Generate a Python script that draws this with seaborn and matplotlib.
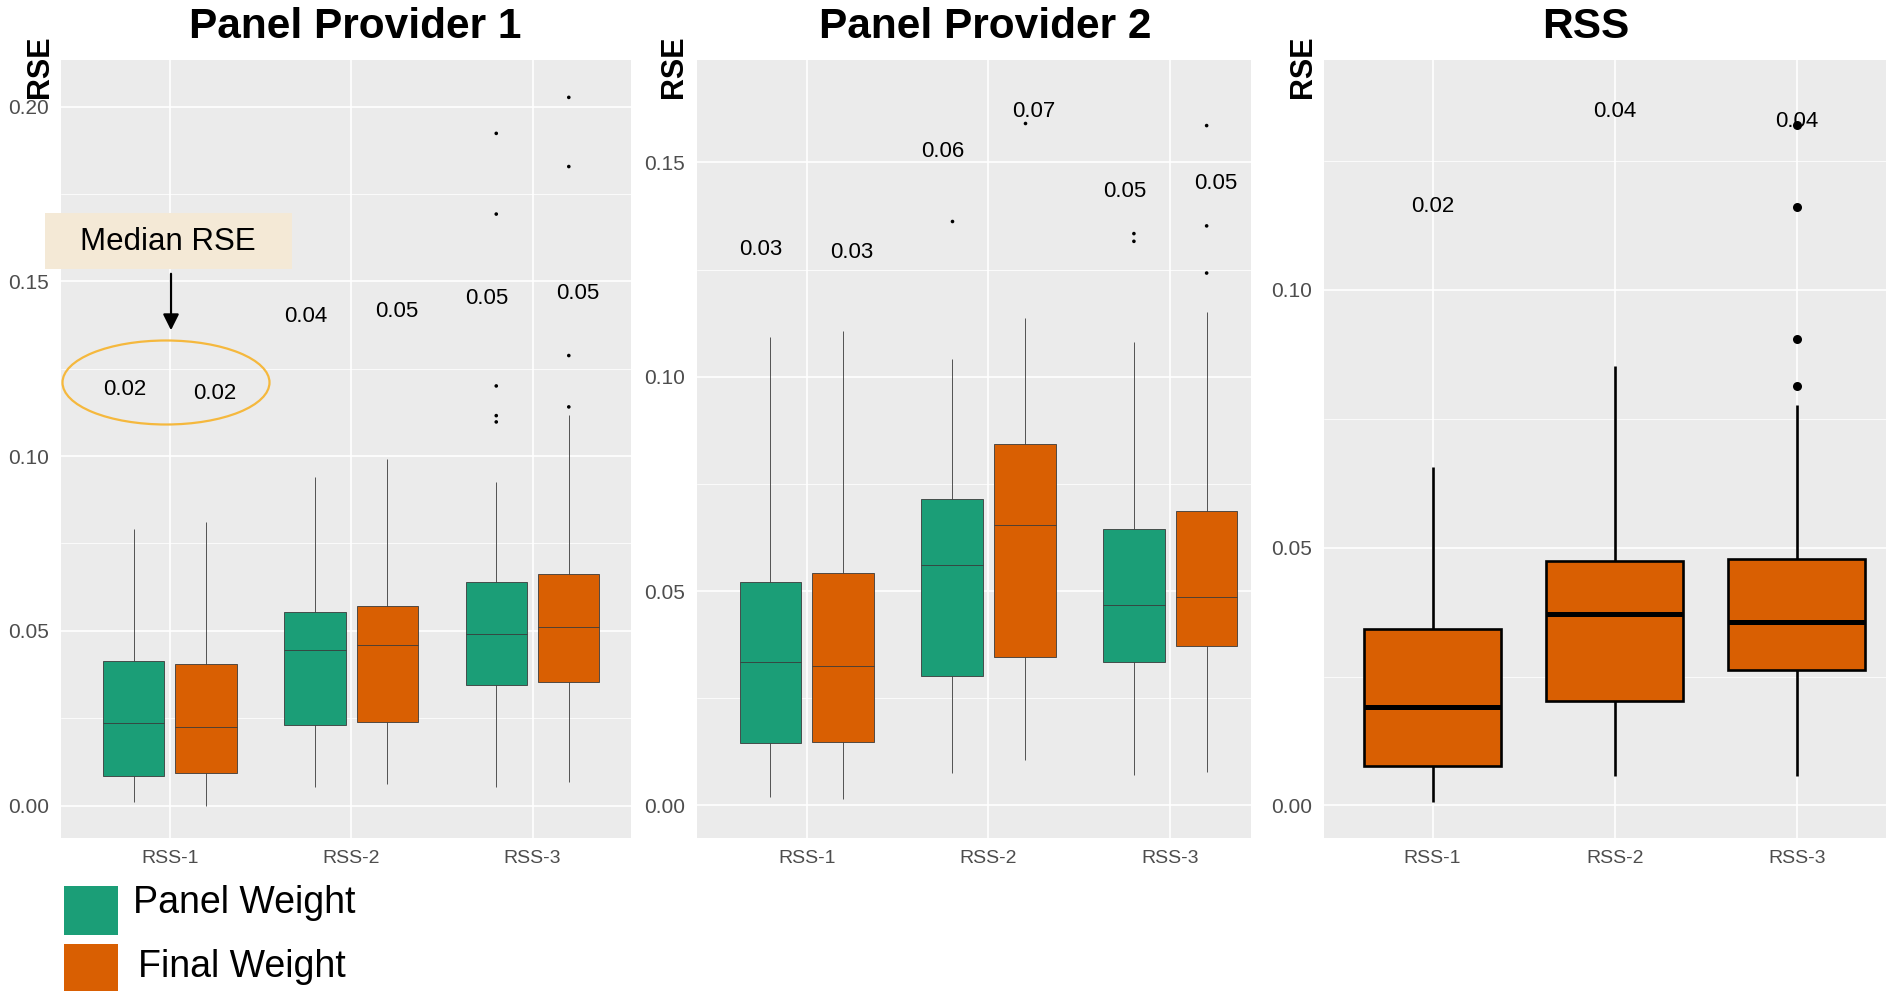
import numpy as np
import pandas as pd
import matplotlib
matplotlib.use("Agg")
import matplotlib.pyplot as plt
from matplotlib.patches import Ellipse, Rectangle
from matplotlib.ticker import MultipleLocator, FormatStrFormatter
import seaborn as sns

sites = ["RSS-1", "RSS-2", "RSS-3"]
weights = ["Panel Weight", "Final Weight"]
colors = ["#1B9E77", "#D95F02"]

# Panel Provider 1: whisker low, Q1, median, Q3, whisker high per site
p1_panel_lo = [0.0011, 0.0054, 0.0054]
p1_panel_q1 = [0.0084, 0.0230, 0.0345]
p1_panel_med = [0.0237, 0.0444, 0.0492]
p1_panel_q3 = [0.0415, 0.0555, 0.0641]
p1_panel_hi = [0.0792, 0.0941, 0.0925]
p1_final_lo = [0.0000, 0.0063, 0.0068]
p1_final_q1 = [0.0092, 0.0238, 0.0353]
p1_final_med = [0.0226, 0.0459, 0.0510]
p1_final_q3 = [0.0404, 0.0572, 0.0663]
p1_final_hi = [0.0811, 0.0991, 0.1119]
p1_panel_out = [[], [], [0.1924, 0.1693, 0.1201, 0.1116, 0.1098]]
p1_final_out = [[], [], [0.2027, 0.1829, 0.1288, 0.1141]]
p1_panel_label_y = [0.119, 0.140, 0.145]
p1_final_label_y = [0.118, 0.1415, 0.1467]

# Panel Provider 2
p2_panel_lo = [0.0019, 0.0075, 0.0072]
p2_panel_q1 = [0.0145, 0.0302, 0.0335]
p2_panel_med = [0.0335, 0.0562, 0.0468]
p2_panel_q3 = [0.0522, 0.0715, 0.0645]
p2_panel_hi = [0.1093, 0.1041, 0.1080]
p2_final_lo = [0.0015, 0.0105, 0.0079]
p2_final_q1 = [0.0148, 0.0347, 0.0371]
p2_final_med = [0.0325, 0.0654, 0.0487]
p2_final_q3 = [0.0543, 0.0843, 0.0688]
p2_final_hi = [0.1107, 0.1136, 0.1152]
p2_panel_out = [[], [0.1364], [0.1334, 0.1316]]
p2_final_out = [[], [0.1592], [0.1586, 0.1352, 0.1242]]
p2_panel_label_y = [0.1298, 0.1525, 0.1432]
p2_final_label_y = [0.129, 0.1618, 0.1451]

# RSS (final weight only)
p3_lo = [0.0007, 0.0057, 0.0057]
p3_q1 = [0.0076, 0.0202, 0.0262]
p3_med = [0.0190, 0.0371, 0.0355]
p3_q3 = [0.0342, 0.0473, 0.0478]
p3_hi = [0.0657, 0.0851, 0.0776]
p3_out = [[], [], [0.1319, 0.1161, 0.0904, 0.0814]]
p3_label_y = [0.1161, 0.1345, 0.1326]

FONT = "Liberation Sans"
sns.set_theme(style="darkgrid")
plt.rcParams["font.family"] = [FONT, "DejaVu Sans"]


def summary_frame(series):
    """series: list of (weight, lo, q1, med, q3, hi) -> long frame of five-number points."""
    rows = []
    for weight, lo, q1, med, q3, hi in series:
        for i, site in enumerate(sites):
            for v in (lo[i], q1[i], med[i], q3[i], hi[i]):
                rows.append({"site": site, "weight": weight, "rse": v})
    return pd.DataFrame(rows)


def outlier_frame(series):
    rows = []
    for weight, outs in series:
        for i, site in enumerate(sites):
            for v in outs[i]:
                rows.append({"site": site, "weight": weight, "rse": v})
    return pd.DataFrame(rows)


def style_axis(ax, ylim, xlim, yticks):
    ax.set_facecolor("#EBEBEB")
    ax.set_ylim(*ylim)
    ax.set_xlim(*xlim)
    ax.set_yticks(yticks)
    ax.yaxis.set_major_formatter(FormatStrFormatter("%.2f"))
    ax.yaxis.set_minor_locator(MultipleLocator(0.025))
    ax.set_axisbelow(True)
    ax.grid(False)
    ax.grid(True, which="major", color="white", linewidth=1.2)
    ax.grid(True, which="minor", axis="y", color="white", linewidth=0.55)
    ax.tick_params(axis="both", which="major", length=5.5, width=1.0, color="#333333",
                   labelcolor="#4D4D4D", direction="out")
    ax.tick_params(axis="y", which="major", labelsize=15, pad=3)
    ax.tick_params(axis="x", which="major", labelsize=14, pad=3)
    ax.tick_params(which="minor", length=0)
    for s in ax.spines.values():
        s.set_visible(False)
    ax.set_xlabel("")
    ax.set_ylabel("")


W, H = 1886, 991
fig = plt.figure(figsize=(W / 100, H / 100), dpi=100)
fig.patch.set_facecolor("white")

ax1 = fig.add_axes([61 / W, 1 - 838 / H, 570 / W, 778 / H])
ax2 = fig.add_axes([697 / W, 1 - 838 / H, 554 / W, 778 / H])
ax3 = fig.add_axes([1324 / W, 1 - 838 / H, 562 / W, 778 / H])

palette = dict(zip(weights, colors))
black = {w: "black" for w in weights}

panels = [
    (ax1,
     [(weights[0], p1_panel_lo, p1_panel_q1, p1_panel_med, p1_panel_q3, p1_panel_hi),
      (weights[1], p1_final_lo, p1_final_q1, p1_final_med, p1_final_q3, p1_final_hi)],
     [(weights[0], p1_panel_out), (weights[1], p1_final_out)],
     [(p1_panel_med, p1_panel_label_y), (p1_final_med, p1_final_label_y)],
     (-0.0093, 0.2134), (-0.6, 2.543), [0, 0.05, 0.10, 0.15, 0.20]),
    (ax2,
     [(weights[0], p2_panel_lo, p2_panel_q1, p2_panel_med, p2_panel_q3, p2_panel_hi),
      (weights[1], p2_final_lo, p2_final_q1, p2_final_med, p2_final_q3, p2_final_hi)],
     [(weights[0], p2_panel_out), (weights[1], p2_final_out)],
     [(p2_panel_med, p2_panel_label_y), (p2_final_med, p2_final_label_y)],
     (-0.0076, 0.1739), (-0.603, 2.444), [0, 0.05, 0.10, 0.15]),
]

for ax, series, outs, labels, ylim, xlim, yticks in panels:
    box_df = summary_frame(series)
    sns.boxplot(data=box_df, x="site", y="rse", hue="weight", order=sites,
                hue_order=weights, palette=palette, saturation=1, whis=(0, 100),
                width=0.8, gap=0.156, linewidth=0.6, linecolor="#3a3a3a",
                showfliers=False, showcaps=False, legend=False, ax=ax)
    out_df = outlier_frame(outs)
    sns.stripplot(data=out_df, x="site", y="rse", hue="weight", order=sites,
                  hue_order=weights, palette=black, dodge=True, jitter=False,
                  size=2.6, linewidth=0, legend=False, ax=ax)
    for k, (meds, ys) in enumerate(labels):
        shift = -0.25 if k == 0 else 0.25
        for i in range(len(sites)):
            ax.text(i + shift, ys[i], f"{meds[i]:.2f}", ha="center", va="center",
                    fontsize=16, color="black")
    style_axis(ax, ylim, xlim, yticks)

# RSS panel
box3 = summary_frame([(weights[1], p3_lo, p3_q1, p3_med, p3_q3, p3_hi)])
sns.boxplot(data=box3, x="site", y="rse", order=sites, color=colors[1], saturation=1,
            whis=(0, 100), width=0.75, linewidth=1.9, linecolor="black",
            medianprops={"linewidth": 3.6}, showfliers=False, showcaps=False, ax=ax3)
out3 = outlier_frame([(weights[1], p3_out)])
sns.stripplot(data=out3, x="site", y="rse", order=sites, color="black", jitter=False,
              size=6.5, linewidth=0, ax=ax3)
for i in range(len(sites)):
    ax3.text(i, p3_label_y[i], f"{p3_med[i]:.2f}", ha="center", va="center",
             fontsize=16, color="black")
style_axis(ax3, (-0.0063, 0.1445), (-0.596, 2.49), [0, 0.05, 0.10])

# Titles and y labels
for x, title in [(355 / W, "Panel Provider 1"), (985 / W, "Panel Provider 2"), (1586 / W, "RSS")]:
    fig.text(x, 1 - 27 / H, title, ha="center", va="center", fontsize=30.5,
             fontweight="bold", color="black")
for x in (40 / W, 674 / W, 1303 / W):
    fig.text(x, 1 - 67 / H, "RSE", rotation=90, ha="center", va="center",
             fontsize=22, fontweight="bold", color="black")

# Median RSE callout
fig.add_artist(Rectangle((44.5 / W, 1 - 269 / H), 247.5 / W, 56 / H,
                         transform=fig.transFigure, facecolor="#F4E9D6", edgecolor="none"))
fig.text(168 / W, 1 - 242 / H, "Median RSE", ha="center", va="center", fontsize=22.5,
         color="black")
ax1.annotate("", xy=(171 / W, 1 - 333 / H), xytext=(171 / W, 1 - 271 / H),
             xycoords="figure fraction", textcoords="figure fraction",
             arrowprops=dict(arrowstyle="-|>", color="black", lw=1.6, mutation_scale=24))
fig.add_artist(Ellipse((166 / W, 1 - 382.5 / H), 207 / W, 84 / H, transform=fig.transFigure,
                       fill=False, edgecolor="#F5B83D", linewidth=1.6))

# Legend
for (label, color), (ytop, xtext, ycen) in zip(zip(weights, colors),
                                               [(886, 133, 903), (944, 138, 967)]):
    fig.add_artist(Rectangle((64 / W, 1 - (ytop + 49) / H), 54 / W, 49 / H,
                             transform=fig.transFigure, facecolor=color, edgecolor="none"))
    fig.text(xtext / W, 1 - ycen / H, label, ha="left", va="center", fontsize=27,
             color="black")

fig.savefig("out.png", dpi=100, facecolor="white")
